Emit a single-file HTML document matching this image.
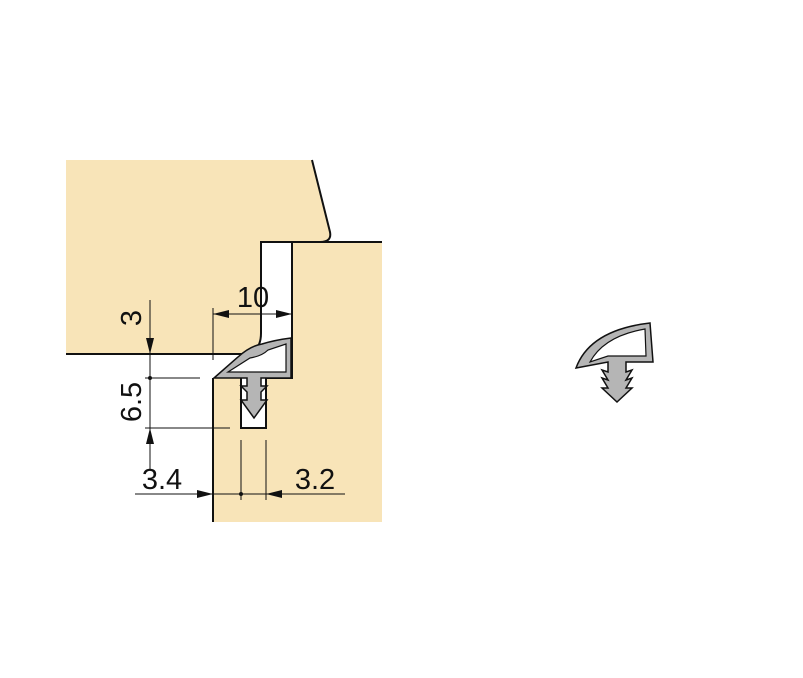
<!DOCTYPE html>
<html><head><meta charset="utf-8"><style>
html,body{margin:0;padding:0;background:#fff}
svg{display:block}
text{font-family:"Liberation Sans",sans-serif;font-size:29px;fill:#111}
</style></head><body>
<svg width="803" height="678" viewBox="0 0 803 678">
<g>
<path d="M66,160 L312,160 L330,232 Q332,242 320,242 L261,242 L261,333 Q261,350 248,354 L66,354 Z" fill="#f8e4b8"/>
<path d="M312,160 L330,232 Q332,242 320,242 L261,242 L261,333 Q261,350 248,354 L66,354" fill="none" stroke="#111" stroke-width="2"/>
</g>
<g>
<path d="M292,242 L382,242 L382,522 L213,522 L213,378 L241,378 L241,428 L266,428 L266,378 L292,378 Z" fill="#f8e4b8"/>
<path d="M292,242 L382,242 M292,242 L292,378 L266,378 M213,522 L213,378 M241,378 L241,428 L266,428 L266,378" fill="none" stroke="#111" stroke-width="2"/>
</g>
<g>
<path d="M214,378 L238,357 Q250,346 262,344 Q275,340 291,338 L291,378 L261,378 L261,386 L267,386 L261,392 L261,400 L267,400 L254,418 L241,400 L247,400 L247,392 L241,386 L247,386 L247,378 Z" fill="#b5b5b5" stroke="#111" stroke-width="1.5"/>
<path d="M228,372 L250,358 Q262,356 268,350 L286,344 L286,372 Z" fill="#fff" stroke="#111" stroke-width="1.2"/>
</g>
<g>
<path d="M576,368 Q590,330 650,323 L653,362 L626,362 L626,372 L632,370 L626,380 L632,378 L626,388 L632,388 L617,402 L602,388 L608,388 L602,378 L608,380 L602,370 L608,372 L608,362 Z" fill="#b5b5b5" stroke="#111" stroke-width="1.5"/>
<path d="M590,362 Q604,336 645,329 L646,356 L608,356 Z" fill="#fff" stroke="#111" stroke-width="1.2"/>
</g>
<g stroke="#111" stroke-width="1" fill="none">
<line x1="150" y1="300" x2="150" y2="470"/>
<line x1="145" y1="378" x2="200" y2="378"/>
<line x1="145" y1="428" x2="230" y2="428"/>
<line x1="213" y1="308" x2="213" y2="360"/>
<line x1="213" y1="314" x2="292" y2="314"/>
<line x1="135" y1="494" x2="345" y2="494"/>
<line x1="241" y1="440" x2="241" y2="500"/>
<line x1="266" y1="440" x2="266" y2="500"/>
</g>
<g fill="#111">
<path d="M150,354 L146,338 L154,338 Z"/>
<path d="M150,428 L146,444 L154,444 Z"/>
<path d="M213,314 L229,310 L229,318 Z"/>
<path d="M292,314 L276,310 L276,318 Z"/>
<path d="M213,494 L197,490 L197,498 Z"/>
<path d="M266,494 L282,490 L282,498 Z"/>
<circle cx="150" cy="378" r="2"/><circle cx="241" cy="494" r="2"/>
</g>
<text x="253" y="307" text-anchor="middle">10</text>
<text transform="translate(141,318) rotate(-90)" text-anchor="middle">3</text>
<text transform="translate(141,402) rotate(-90)" text-anchor="middle">6.5</text>
<text x="162" y="489" text-anchor="middle">3.4</text>
<text x="315" y="489" text-anchor="middle">3.2</text>
</svg>
</body></html>
